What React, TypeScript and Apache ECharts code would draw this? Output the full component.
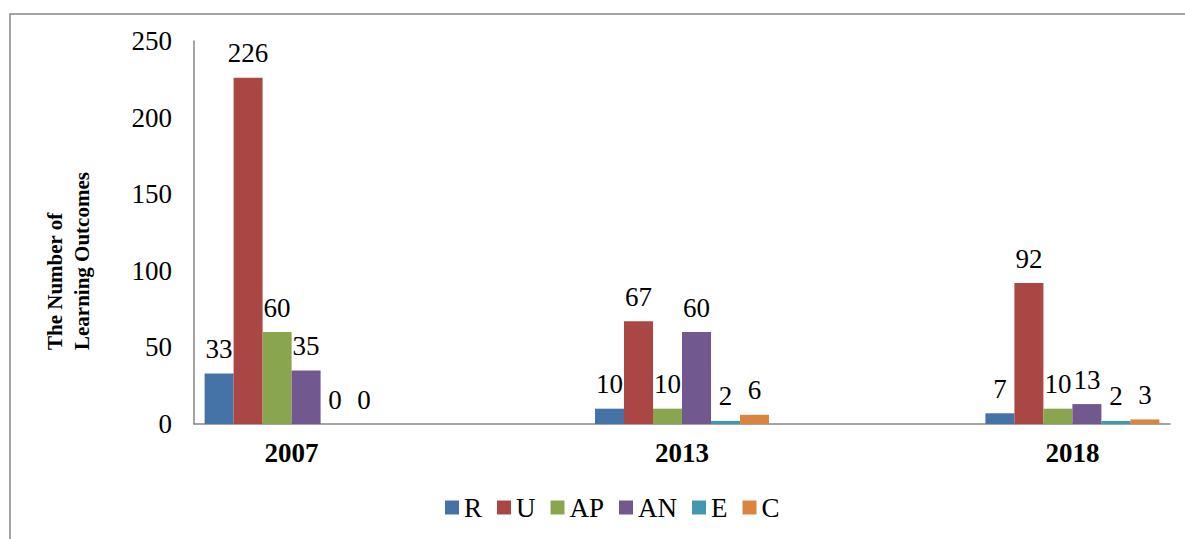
import React, { useEffect, useRef } from "react";
import * as echarts from "echarts";

const years = ["2007", "2013", "2018"];
const seriesNames = ["R", "U", "AP", "AN", "E", "C"];
const valuesR = [33, 10, 7];
const valuesU = [226, 67, 92];
const valuesAP = [60, 10, 10];
const valuesAN = [35, 60, 13];
const valuesE = [0, 2, 2];
const valuesC = [0, 6, 3];
const seriesColors = ["#4572A7", "#AA4643", "#89A54E", "#71588F", "#4198AF", "#DB843D"];
const yTicks = [0, 50, 100, 150, 200, 250];

const allValues = [valuesR, valuesU, valuesAP, valuesAN, valuesE, valuesC];
const FONT = "Liberation Serif, Times New Roman, serif";
const FS = 27;

export default function App() {
  const ref = useRef<HTMLDivElement>(null);
  useEffect(() => {
    if (!ref.current) return;
    const chart = echarts.init(ref.current, undefined, { renderer: "svg" });
    const series = seriesNames.map((name, si) => ({
      name,
      type: "bar",
      barWidth: 29,
      barGap: "0%",
      itemStyle: { color: seriesColors[si] },
      label: {
        show: true,
        position: "top",
        distance: 11,
        fontFamily: FONT,
        fontSize: FS,
        color: "#000",
      },
      data: allValues[si].map((v, i) => [i, v]),
    }));
    chart.setOption({
      animation: false,
      backgroundColor: "#fff",
      textStyle: { fontFamily: FONT },
      grid: { left: 194, top: 41, width: 976, height: 383, containLabel: false },
      xAxis: {
        type: "value",
        min: -0.25,
        max: 2.25,
        interval: 0.25,
        axisLine: { show: true, onZero: false, lineStyle: { color: "#868686", width: 1.5 } },
        axisTick: { show: false },
        splitLine: { show: false },
        axisLabel: {
          margin: 15,
          fontFamily: FONT,
          fontSize: FS,
          fontWeight: "bold",
          color: "#000",
          showMinLabel: true,
          showMaxLabel: true,
          formatter: (v: number) => {
            const i = Math.round(v);
            return Math.abs(v - i) < 1e-6 && i >= 0 && i < years.length ? years[i] : "";
          },
        },
      },
      yAxis: {
        type: "value",
        min: yTicks[0],
        max: yTicks[yTicks.length - 1],
        interval: 50,
        axisLine: { show: true, onZero: false, lineStyle: { color: "#868686", width: 1.5 } },
        axisTick: { show: false },
        splitLine: { show: false },
        axisLabel: { margin: 22, fontFamily: FONT, fontSize: FS, color: "#000" },
      },
      legend: {
        data: seriesNames,
        left: 440,
        top: 489,
        itemWidth: 14,
        itemHeight: 14,
        itemGap: 15,
        icon: "rect",
        textStyle: { fontFamily: FONT, fontSize: FS, color: "#000" },
      },
      graphic: [
        {
          type: "rect",
          shape: { x: 10, y: 14, width: 1300, height: 700 },
          style: { fill: "none", stroke: "#868686", lineWidth: 1.5 },
          silent: true,
        },
        {
          type: "text",
          x: 68,
          y: 350,
          rotation: Math.PI / 2,
          style: {
            text: "The Number of\nLearning Outcomes",
            fontFamily: FONT,
            fontSize: 21,
            fontWeight: "bold",
            lineHeight: 27,
            fill: "#000",
            align: "left",
            verticalAlign: "middle",
          },
        },
      ],
      series,
    });
    return () => chart.dispose();
  }, []);
  return (
    <div
      ref={ref}
      style={{ position: "fixed", left: 0, top: 0, width: 1185, height: 539 }}
    />
  );
}
